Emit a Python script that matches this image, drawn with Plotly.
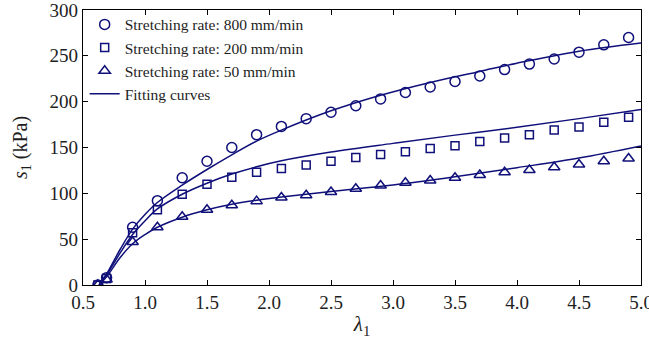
import plotly.graph_objects as go

# Measured points
lam = [0.62, 0.69, 0.9, 1.1, 1.3, 1.5, 1.7, 1.9, 2.1, 2.3, 2.5, 2.7, 2.9, 3.1, 3.3, 3.5, 3.7, 3.9, 4.1, 4.3, 4.5, 4.7, 4.9]
s_800 = [0, 8, 63, 92, 117, 135, 150, 164, 173, 181.5, 188.5, 195.5, 203, 210, 216, 222, 228, 235, 241, 246.5, 254, 262, 270]
s_200 = [0, 7, 57, 82, 99, 110, 117.5, 123, 127, 131, 135, 139, 142.5, 145.5, 149, 152, 156.5, 160.5, 164, 169, 172.5, 177.5, 183]
s_50 = [0, 6, 47, 63, 74.5, 82, 87, 91.5, 95.5, 98, 101.5, 105, 108.5, 111.5, 114, 117, 120, 123, 125.5, 128.5, 131.5, 135, 138]

# Fitting curves
fit800_x = [0.63, 0.69, 0.8, 0.9, 1.0, 1.1, 1.3, 1.5, 1.7, 1.9, 2.1, 2.5, 2.9, 3.3, 3.7, 4.0, 4.5, 5.0]
fit800_y = [0, 12, 39, 61, 77, 90, 109, 126, 142, 157, 169, 190, 207, 221, 233, 242, 255, 264]
fit200_x = [0.63, 0.69, 0.8, 0.9, 1.0, 1.1, 1.3, 1.5, 1.7, 1.9, 2.1, 2.5, 3.0, 3.5, 4.0, 4.5, 5.0]
fit200_y = [0, 11, 35, 55, 70, 83, 99, 111, 121, 129, 135.5, 145, 154.5, 163.5, 172, 181.5, 191.6]
fit50_x = [0.63, 0.69, 0.8, 0.9, 1.0, 1.1, 1.3, 1.5, 1.7, 1.9, 2.1, 2.5, 3.0, 3.5, 4.0, 4.5, 5.0]
fit50_y = [0, 9, 30, 45, 55, 63, 74, 82, 88, 92.5, 96, 102, 109, 118, 128, 138.5, 151.6]

x_ticks = [0.5, 1.0, 1.5, 2.0, 2.5, 3.0, 3.5, 4.0, 4.5, 5.0]
y_ticks = [0, 50, 100, 150, 200, 250, 300]

NAVY = "#10107a"
FONT = "Liberation Serif"
TXT = "#1e1e1e"

fig = go.Figure()

def marker_trace(y, symbol, size, name):
    return go.Scatter(
        x=lam, y=y, mode="markers", name=name,
        marker=dict(symbol=symbol, size=size, color="rgba(255,255,255,0)",
                    line=dict(color=NAVY, width=1.5)),
    )

fig.add_trace(marker_trace(s_800, "circle", 10, "Stretching rate: 800 mm/min"))
fig.add_trace(marker_trace(s_200, "square", 8, "Stretching rate: 200 mm/min"))
fig.add_trace(marker_trace(s_50, "triangle-up", 10, "Stretching rate: 50 mm/min"))

for i, (fx, fy) in enumerate([(fit800_x, fit800_y), (fit200_x, fit200_y), (fit50_x, fit50_y)]):
    fig.add_trace(go.Scatter(
        x=fx, y=fy, mode="lines", name="Fitting curves",
        line=dict(color=NAVY, width=1.5, shape="spline", smoothing=1.0),
        showlegend=(i == 0),
    ))

axis_common = dict(
    showline=True, linecolor="black", linewidth=1.2, mirror="ticks",
    ticks="inside", ticklen=5, tickcolor="black", showgrid=False, zeroline=False,
    tickfont=dict(family=FONT, size=19, color=TXT),
    ticklabeloverflow="allow", automargin=False,
)

fig.update_layout(
    width=649, height=347,
    margin=dict(l=83, r=8, t=10, b=62),
    paper_bgcolor="white", plot_bgcolor="white",
    font=dict(family=FONT, color=TXT),
    xaxis=dict(range=[0.5, 5.0], tickvals=x_ticks, ticktext=[f"{v:.1f}" for v in x_ticks],
               title=dict(text="<i>λ</i><sub>1</sub>", font=dict(family=FONT, size=21), standoff=4),
               **axis_common),
    yaxis=dict(range=[0, 300], tickvals=y_ticks,
               title=dict(text="<i>s</i><sub>1</sub> (kPa)", font=dict(family=FONT, size=20), standoff=16),
               **axis_common),
    legend=dict(x=0.003, y=1.008, xanchor="left", yanchor="top",
                bgcolor="rgba(0,0,0,0)", itemwidth=30,
                font=dict(family=FONT, size=15.5, color=TXT), tracegroupgap=0),
    showlegend=True,
)

fig.write_html("out.html", config={"displayModeBar": False},
               post_script="document.body.style.margin='0';document.body.style.padding='0';")
